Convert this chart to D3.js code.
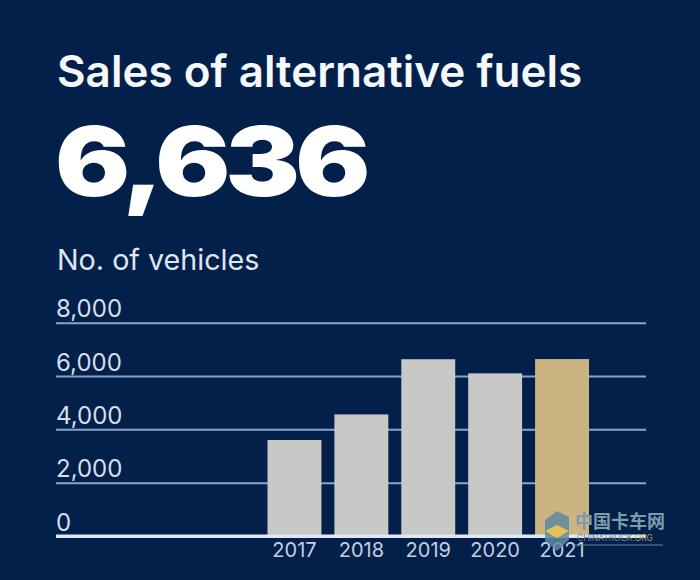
<!DOCTYPE html>
<html>
<head>
<meta charset="utf-8">
<script src="https://cdn.jsdelivr.net/npm/d3@7"></script>
<style>
  html, body { margin: 0; padding: 0; background: #03204a; }
  svg { display: block; }
  text { font-family: "Inter", "Liberation Sans", sans-serif; }
</style>
</head>
<body>
<div id="chart"></div>
<script>
const years = ["2017", "2018", "2019", "2020", "2021"];
const sales = [3600, 4560, 6630, 6100, 6636];
const yTicks = [0, 2000, 4000, 6000, 8000];
const highlightYear = "2021";

const width = 700;
const height = 580;
const navy = "#03204a";

const svg = d3.select("#chart")
  .append("svg")
  .attr("width", width)
  .attr("height", height)
  .attr("viewBox", `0 0 ${width} ${height}`);

svg.append("rect")
  .attr("width", width)
  .attr("height", height)
  .attr("fill", navy);

// headline
svg.append("text")
  .attr("x", 57)
  .attr("y", 87)
  .attr("fill", "#f6f8fb")
  .style("font-size", "44px")
  .style("font-weight", 600)
  .text("Sales of alternative fuels");

// big number, stretched because the original face is an extended one
svg.append("text")
  .attr("transform", "translate(55,196) scale(1.16,1)")
  .attr("fill", "#ffffff")
  .style("font-size", "96px")
  .style("font-weight", 900)
  .style("letter-spacing", "-4.2px")
  .text("6,636");

svg.append("text")
  .attr("x", 57)
  .attr("y", 270)
  .attr("fill", "#dfe6f0")
  .style("font-size", "28.7px")
  .text("No. of vehicles");

const y = d3.scaleLinear().domain([0, 8000]).range([536, 322.7]);
const x = d3.scaleBand().domain(years).range([267.5, 589]).paddingInner(0.194);

// gridlines and value labels
const yAxis = svg.append("g")
  .attr("transform", "translate(56,0)")
  .call(d3.axisRight(y)
    .tickValues(yTicks)
    .tickSize(590)
    .tickFormat(d3.format(",")));
yAxis.select(".domain").remove();
yAxis.selectAll(".tick line")
  .attr("stroke", d => d === 0 ? "#dfe7f3" : "#88a4ca")
  .attr("stroke-width", d => d === 0 ? 3 : 2);
yAxis.selectAll(".tick text")
  .attr("x", 0)
  .attr("dy", -6)
  .attr("text-anchor", "start")
  .attr("fill", "#d5dfeb")
  .style("font-size", "24px");

// bars
svg.append("g")
  .selectAll("rect")
  .data(years)
  .join("rect")
  .attr("x", d => x(d))
  .attr("y", (d, i) => y(sales[i]))
  .attr("width", x.bandwidth())
  .attr("height", (d, i) => y(0) - y(sales[i]) - 1)
  .attr("fill", d => d === highlightYear ? "#cbb482" : "#c8c8c6");

// baseline goes back over the bar feet
svg.append("line")
  .attr("x1", 56)
  .attr("x2", 646)
  .attr("y1", y(0))
  .attr("y2", y(0))
  .attr("stroke", "#dfe7f3")
  .attr("stroke-width", 3);

// year labels
const xAxis = svg.append("g")
  .attr("transform", `translate(0,${y(0)})`)
  .call(d3.axisBottom(x).tickSize(0));
xAxis.select(".domain").remove();
xAxis.selectAll(".tick text")
  .attr("y", 7)
  .attr("dy", "0.71em")
  .attr("fill", "#c3cfe0")
  .style("font-size", "20px");

// site watermark, bottom right
const mark = svg.append("g");
mark.append("polygon")
  .attr("points", "545,520 557,511 569,517 569,540 557,551 545,541")
  .attr("fill", "#5f8aa0")
  .attr("fill-opacity", 0.85);
mark.append("polygon")
  .attr("points", "545,531 557,525 569,531 557,538")
  .attr("fill", "#e3c257");
mark.append("text")
  .attr("x", 575)
  .attr("y", 528)
  .attr("fill", "#7b9cab")
  .style("font-family", '"Noto Sans CJK SC", sans-serif')
  .style("font-size", "18px")
  .style("font-weight", 700)
  .text("中国卡车网");
const markUrl = mark.append("text")
  .attr("x", 577)
  .attr("y", 541)
  .attr("fill", "#6c8494")
  .style("font-size", "8.5px")
  .text("CHINATRUCK");
markUrl.append("tspan")
  .attr("fill", "#a39f5c")
  .text(".ORG");
mark.append("line")
  .attr("x1", 575)
  .attr("x2", 663)
  .attr("y1", 545)
  .attr("y2", 545)
  .attr("stroke", "#6c8494");
</script>
</body>
</html>
